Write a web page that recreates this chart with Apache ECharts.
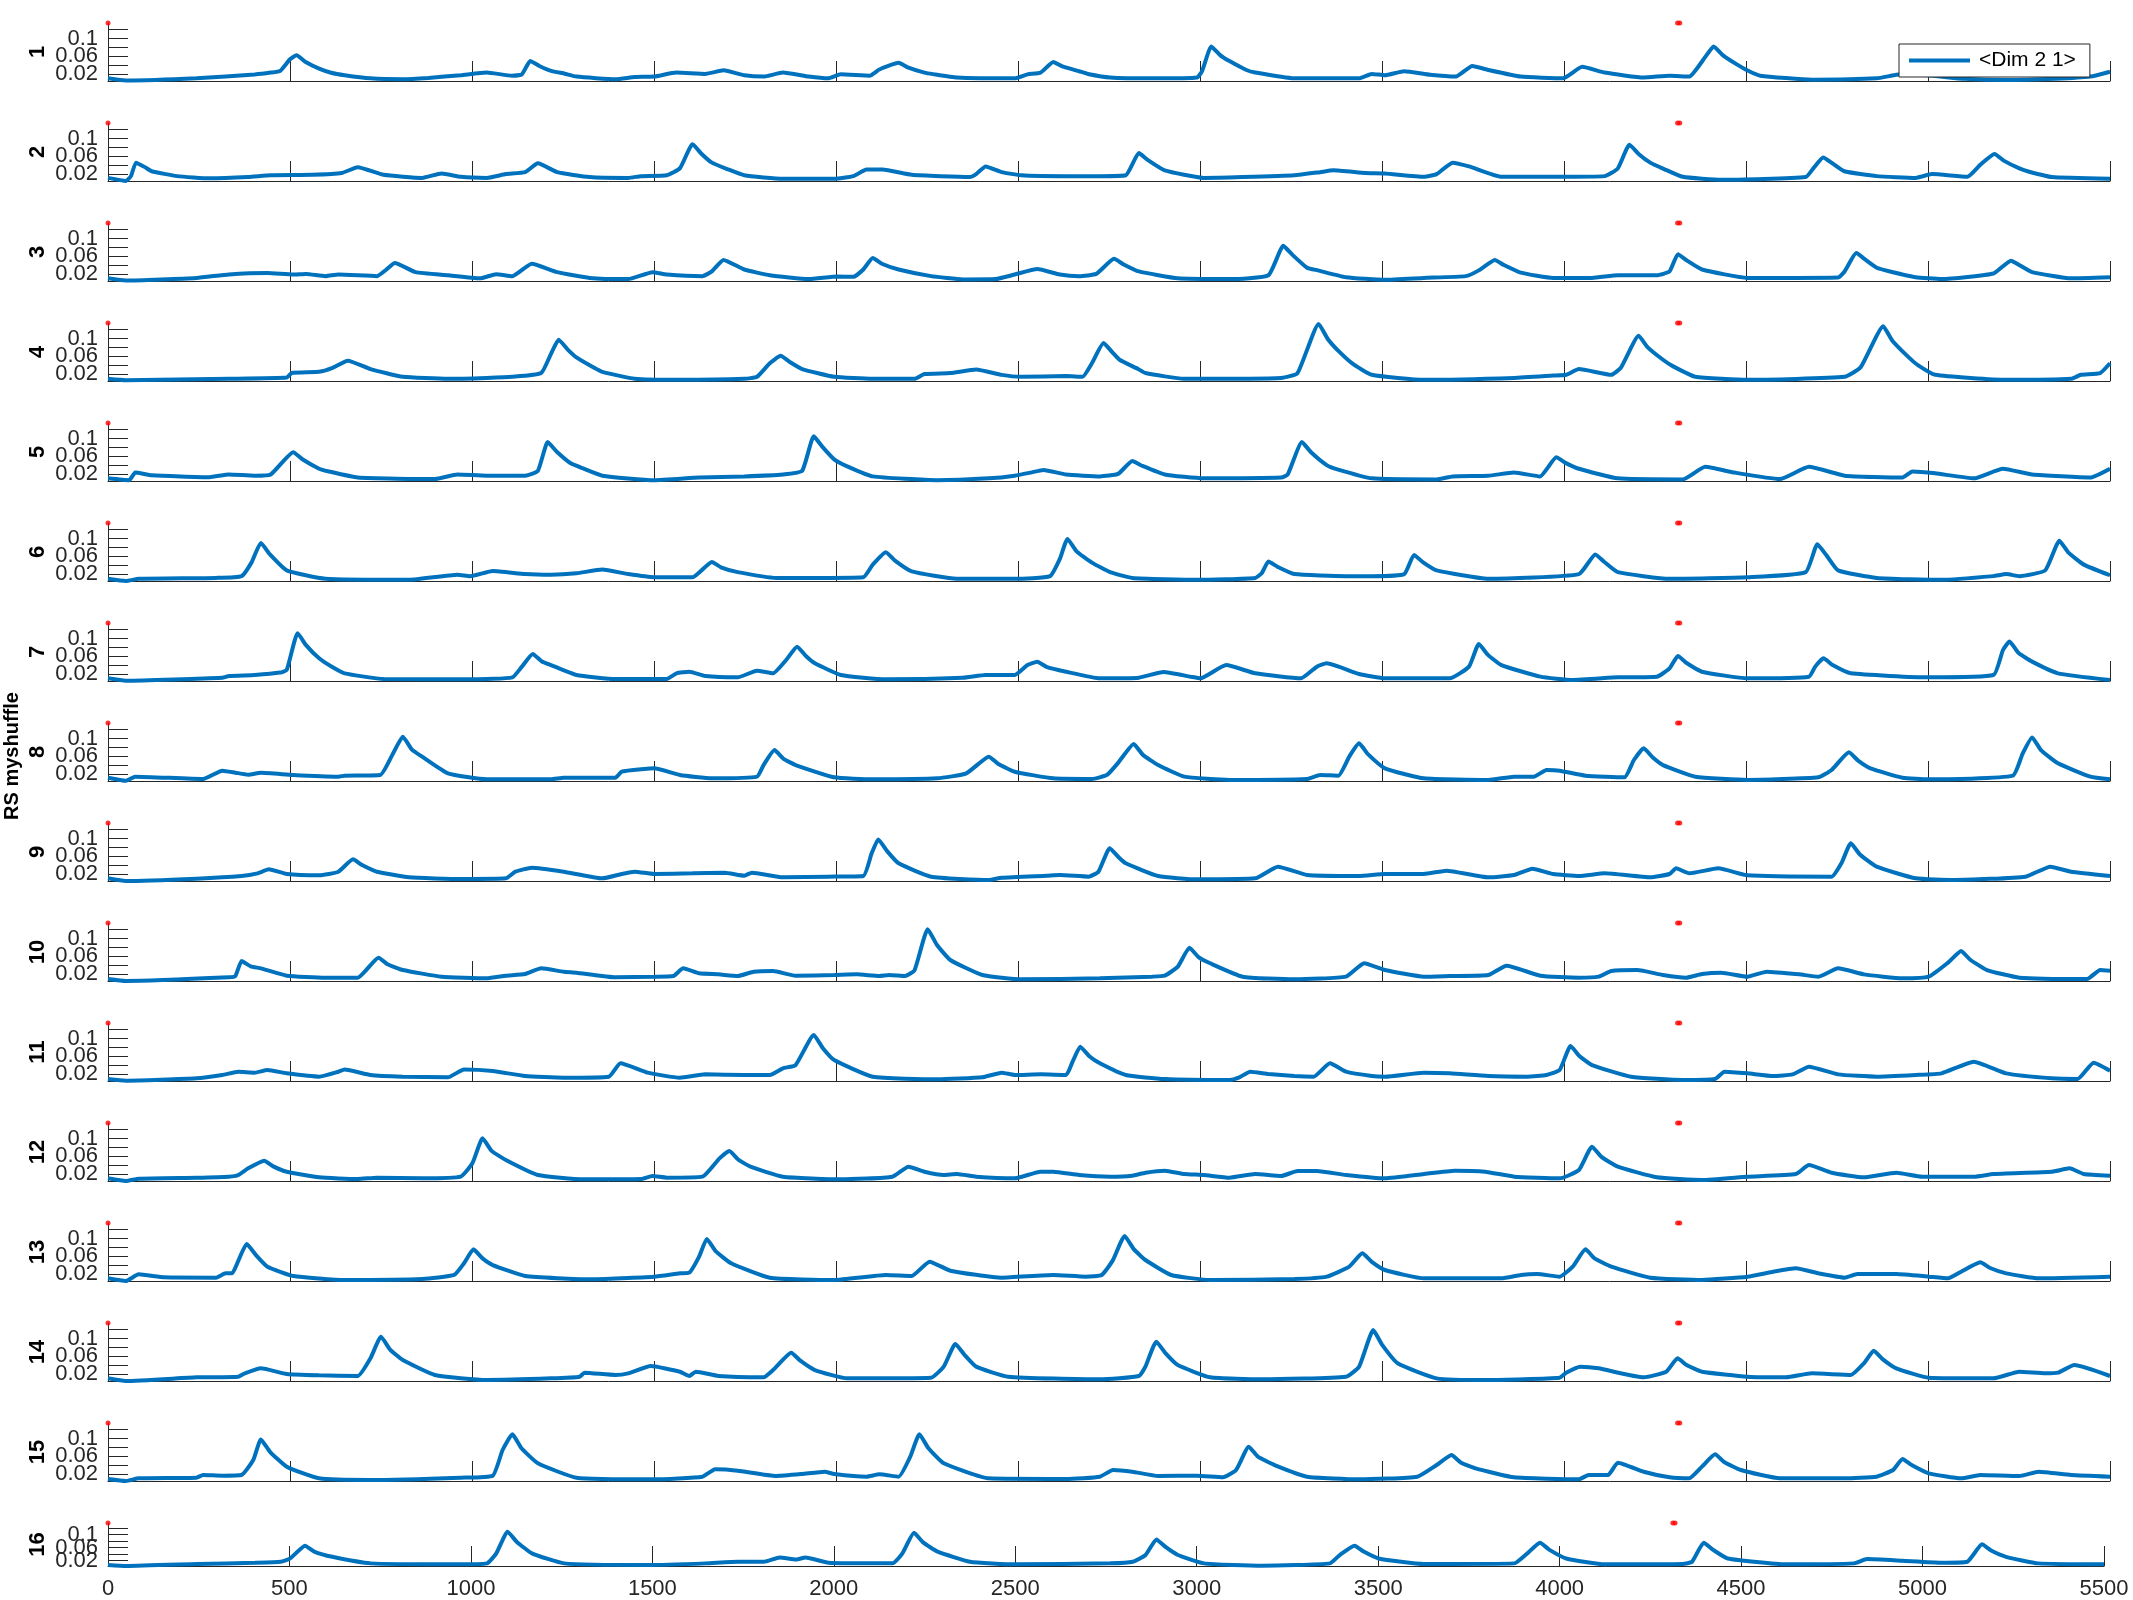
<!DOCTYPE html>
<html><head><meta charset="utf-8">
<script src="https://cdn.jsdelivr.net/npm/echarts@6/dist/echarts.min.js"></script>
<style>html,body{margin:0;padding:0;background:#fff}#c{width:2133px;height:1600px}</style>
</head><body><div id="c"></div><script>
const FONT = "'Liberation Sans', Arial, sans-serif";
const xTickStep = 500;
const yTickValues = [0.02, 0.04, 0.06, 0.08, 0.1, 0.12];
const yLabelValues = [0.02, 0.06, 0.1];
const rowLabels = ['1','2','3','4','5','6','7','8','9','10','11','12','13','14','15','16'];
const markerPts = [[0, 0.135], [4312, 0.135], [4318, 0.135]];
const legendName = '<Dim 2 1>';
const yTitle = 'RS myshuffle';

const s1 = [[0,0.010],[49,0.005],[243,0.010],[403,0.0187],[447,0.023],[473,0.027],[500,0.053],[518,0.062],[543,0.047],[580,0.032],[613,0.0226],[650,0.017],[721,0.010],[810,0.008],[880,0.011],[969,0.017],[1040,0.023],[1110,0.016],[1137,0.019],[1160,0.049],[1185,0.038],[1217,0.027],[1255,0.0205],[1287,0.014],[1394,0.008],[1447,0.013],[1500,0.014],[1562,0.023],[1641,0.020],[1691,0.028],[1748,0.017],[1801,0.014],[1854,0.023],[1925,0.014],[1978,0.010],[2013,0.019],[2093,0.016],[2119,0.030],[2172,0.045],[2197,0.035],[2243,0.023],[2267,0.0195],[2332,0.012],[2491,0.010],[2526,0.019],[2562,0.023],[2597,0.047],[2622,0.037],[2668,0.026],[2692,0.020],[2753,0.012],[2868,0.010],[2992,0.012],[3006,0.027],[3031,0.082],[3056,0.062],[3081,0.049],[3126,0.0295],[3152,0.023],[3259,0.010],[3437,0.010],[3472,0.020],[3508,0.017],[3561,0.026],[3632,0.018],[3703,0.014],[3748,0.038],[3792,0.029],[3881,0.014],[3997,0.010],[4050,0.036],[4112,0.023],[4219,0.012],[4290,0.016],[4344,0.014],[4388,0.058],[4411,0.082],[4436,0.0625],[4468,0.045],[4506,0.027],[4539,0.016],[4681,0.007],[4859,0.010],[4913,0.018],[4960,0.019],[5100,0.009],[5215,0.006],[5350,0.009],[5446,0.014],[5500,0.025]];
const s2 = [[0,0.011],[49,0.004],[63,0.015],[77,0.0455],[102,0.035],[120,0.026],[190,0.015],[279,0.010],[385,0.013],[447,0.017],[562,0.018],[642,0.022],[686,0.035],[757,0.018],[863,0.011],[916,0.021],[969,0.0135],[1040,0.011],[1093,0.0196],[1146,0.024],[1181,0.044],[1234,0.024],[1323,0.013],[1429,0.011],[1464,0.015],[1535,0.017],[1571,0.0325],[1606,0.087],[1631,0.065],[1659,0.0455],[1701,0.031],[1748,0.017],[1854,0.009],[1995,0.009],[2048,0.015],[2084,0.030],[2128,0.030],[2208,0.018],[2367,0.013],[2385,0.0196],[2411,0.037],[2455,0.024],[2509,0.017],[2632,0.015],[2725,0.015],[2796,0.017],[2832,0.067],[2857,0.051],[2903,0.028],[3010,0.011],[3117,0.013],[3259,0.017],[3330,0.024],[3366,0.028],[3454,0.022],[3508,0.021],[3615,0.0135],[3650,0.0196],[3694,0.0455],[3739,0.037],[3828,0.0135],[3970,0.0135],[4112,0.015],[4148,0.0325],[4180,0.086],[4205,0.065],[4237,0.0455],[4275,0.031],[4326,0.0135],[4433,0.0066],[4664,0.013],[4685,0.0325],[4712,0.057],[4737,0.044],[4770,0.026],[4859,0.015],[4966,0.011],[5011,0.0196],[5108,0.0135],[5144,0.041],[5183,0.065],[5208,0.050],[5251,0.0325],[5278,0.025],[5340,0.013],[5500,0.009]];
const s3 = [[0,0.010],[49,0.005],[243,0.011],[332,0.0187],[438,0.022],[509,0.0187],[544,0.020],[597,0.015],[633,0.0187],[739,0.015],[765,0.030],[788,0.0446],[845,0.024],[934,0.017],[1022,0.010],[1066,0.0195],[1111,0.015],[1164,0.043],[1234,0.024],[1323,0.011],[1429,0.0083],[1496,0.024],[1535,0.0187],[1633,0.015],[1659,0.0257],[1691,0.0515],[1748,0.030],[1818,0.017],[1925,0.0083],[2004,0.014],[2048,0.0135],[2075,0.030],[2101,0.056],[2126,0.043],[2172,0.030],[2261,0.015],[2349,0.0075],[2438,0.0083],[2491,0.0187],[2553,0.031],[2615,0.0187],[2668,0.015],[2715,0.020],[2764,0.054],[2789,0.042],[2832,0.0256],[2939,0.010],[3081,0.0083],[3188,0.017],[3229,0.0835],[3254,0.063],[3294,0.034],[3324,0.028],[3401,0.0126],[3508,0.0066],[3615,0.011],[3730,0.015],[3766,0.028],[3810,0.0516],[3835,0.040],[3881,0.023],[3970,0.011],[4077,0.011],[4148,0.017],[4255,0.017],[4290,0.0256],[4313,0.0645],[4338,0.050],[4379,0.030],[4504,0.011],[4753,0.012],[4771,0.0256],[4803,0.067],[4828,0.052],[4859,0.034],[4898,0.025],[4966,0.0126],[5037,0.0083],[5180,0.021],[5228,0.050],[5253,0.039],[5286,0.024],[5393,0.010],[5500,0.0126]];
const s4 = [[0,0.009],[49,0.0057],[332,0.009],[491,0.0118],[505,0.022],[580,0.0247],[615,0.033],[659,0.050],[721,0.031],[810,0.0135],[934,0.009],[1040,0.011],[1111,0.0135],[1190,0.022],[1217,0.0654],[1238,0.0973],[1263,0.075],[1288,0.0567],[1333,0.035],[1358,0.0247],[1447,0.009],[1571,0.0066],[1748,0.009],[1783,0.0135],[1818,0.044],[1848,0.061],[1873,0.047],[1907,0.031],[1995,0.0135],[2101,0.009],[2216,0.009],[2243,0.0196],[2314,0.022],[2385,0.030],[2455,0.0178],[2509,0.0135],[2632,0.0152],[2677,0.0135],[2703,0.044],[2735,0.0896],[2760,0.068],[2779,0.052],[2830,0.031],[2850,0.022],[2956,0.009],[3223,0.011],[3268,0.022],[3326,0.133],[3351,0.099],[3383,0.0697],[3421,0.042],[3472,0.018],[3615,0.0066],[3863,0.011],[3970,0.0162],[4006,0.018],[4041,0.031],[4130,0.018],[4157,0.035],[4205,0.106],[4230,0.080],[4272,0.052],[4300,0.037],[4361,0.0135],[4504,0.0066],[4771,0.0135],[4815,0.035],[4877,0.1276],[4902,0.095],[4948,0.0567],[4972,0.040],[5020,0.018],[5215,0.0066],[5393,0.009],[5420,0.018],[5473,0.022],[5500,0.044]];
const s5 = [[0,0.010],[58,0.0057],[75,0.023],[120,0.017],[279,0.0126],[332,0.0187],[403,0.016],[447,0.0187],[509,0.069],[534,0.053],[580,0.0317],[604,0.026],[686,0.0118],[898,0.0083],[960,0.0187],[1040,0.016],[1146,0.016],[1181,0.027],[1208,0.092],[1233,0.070],[1270,0.0446],[1303,0.033],[1358,0.016],[1500,0.0057],[1624,0.0118],[1748,0.0144],[1854,0.0187],[1907,0.027],[1939,0.105],[1964,0.080],[1995,0.053],[2034,0.036],[2101,0.0144],[2278,0.0057],[2420,0.010],[2491,0.016],[2535,0.023],[2570,0.029],[2632,0.0187],[2725,0.0144],[2775,0.020],[2814,0.049],[2839,0.039],[2903,0.0187],[3010,0.010],[3223,0.0118],[3241,0.0187],[3280,0.092],[3305,0.069],[3348,0.040],[3375,0.031],[3472,0.010],[3650,0.0075],[3694,0.0144],[3792,0.016],[3863,0.023],[3934,0.0144],[3979,0.0576],[4004,0.045],[4041,0.0317],[4148,0.010],[4326,0.0075],[4388,0.036],[4468,0.023],[4593,0.0083],[4673,0.036],[4771,0.016],[4930,0.0118],[4957,0.0256],[5020,0.0213],[5126,0.010],[5206,0.0317],[5286,0.0187],[5446,0.0118],[5500,0.0317]];
const s6 = [[0,0.009],[49,0.004],[84,0.009],[297,0.011],[367,0.015],[394,0.0455],[420,0.090],[445,0.064],[491,0.028],[597,0.009],[827,0.0066],[960,0.018],[995,0.015],[1057,0.0265],[1146,0.0196],[1217,0.018],[1287,0.0213],[1358,0.030],[1429,0.0196],[1500,0.0126],[1606,0.0126],[1659,0.047],[1684,0.035],[1730,0.024],[1836,0.011],[1925,0.011],[2075,0.0126],[2101,0.041],[2137,0.069],[2162,0.050],[2208,0.0256],[2332,0.009],[2491,0.009],[2588,0.015],[2615,0.054],[2636,0.099],[2661,0.071],[2703,0.0455],[2753,0.024],[2814,0.011],[2992,0.0066],[3152,0.011],[3170,0.022],[3188,0.048],[3213,0.036],[3259,0.0196],[3401,0.015],[3472,0.015],[3561,0.0196],[3588,0.063],[3613,0.046],[3650,0.028],[3792,0.009],[4041,0.0196],[4086,0.064],[4111,0.047],[4148,0.024],[4290,0.009],[4504,0.0126],[4664,0.024],[4696,0.087],[4721,0.062],[4753,0.028],[4859,0.011],[5037,0.0066],[5180,0.015],[5215,0.0196],[5251,0.015],[5322,0.028],[5361,0.095],[5386,0.068],[5428,0.041],[5500,0.017]];
const s7 = [[0,0.010],[49,0.0048],[314,0.0115],[332,0.0153],[403,0.0176],[473,0.023],[491,0.029],[521,0.112],[544,0.085],[580,0.0552],[615,0.036],[650,0.0213],[757,0.0085],[1004,0.0078],[1111,0.0123],[1137,0.0364],[1167,0.065],[1192,0.048],[1217,0.040],[1287,0.0176],[1394,0.0085],[1535,0.0085],[1562,0.0213],[1597,0.025],[1641,0.0153],[1730,0.0123],[1783,0.0273],[1827,0.0213],[1863,0.0514],[1893,0.0816],[1918,0.060],[1942,0.044],[2013,0.0176],[2137,0.0078],[2349,0.0115],[2411,0.0176],[2491,0.0176],[2526,0.040],[2553,0.0477],[2578,0.036],[2632,0.025],[2725,0.010],[2832,0.0115],[2900,0.0243],[2974,0.0138],[3001,0.010],[3072,0.040],[3152,0.0213],[3277,0.010],[3321,0.0364],[3348,0.044],[3437,0.0198],[3508,0.010],[3686,0.010],[3739,0.0364],[3766,0.0876],[3791,0.063],[3828,0.040],[3935,0.0138],[4024,0.0063],[4148,0.0123],[4255,0.0138],[4290,0.0326],[4313,0.0605],[4338,0.044],[4379,0.025],[4504,0.010],[4673,0.0138],[4690,0.0364],[4713,0.0552],[4738,0.040],[4788,0.0213],[5002,0.0123],[5180,0.0176],[5206,0.074],[5224,0.093],[5249,0.067],[5286,0.0477],[5357,0.0213],[5500,0.0063]];
const s8 = [[0,0.0115],[49,0.0045],[75,0.0138],[261,0.0085],[314,0.0273],[350,0.0228],[385,0.0183],[420,0.0228],[509,0.0176],[633,0.0138],[650,0.016],[748,0.0176],[783,0.066],[810,0.104],[835,0.075],[863,0.059],[934,0.0213],[1040,0.0078],[1217,0.0078],[1252,0.0115],[1394,0.0115],[1411,0.025],[1473,0.031],[1500,0.0326],[1571,0.0176],[1659,0.010],[1783,0.0138],[1801,0.040],[1831,0.074],[1856,0.054],[1889,0.040],[1995,0.0123],[2101,0.0078],[2278,0.010],[2358,0.0213],[2420,0.059],[2445,0.043],[2491,0.025],[2597,0.010],[2703,0.0085],[2745,0.018],[2775,0.045],[2818,0.0876],[2843,0.063],[2885,0.040],[2957,0.0138],[3081,0.0063],[3294,0.0085],[3330,0.0176],[3380,0.016],[3410,0.059],[3437,0.089],[3462,0.064],[3508,0.0326],[3615,0.010],[3792,0.0063],[3863,0.0138],[3917,0.0138],[3952,0.0288],[3988,0.0273],[4059,0.016],[4166,0.0123],[4192,0.0514],[4219,0.0778],[4244,0.057],[4272,0.040],[4361,0.0138],[4504,0.0063],[4699,0.0123],[4735,0.0288],[4783,0.0688],[4808,0.050],[4842,0.0326],[4930,0.0115],[5002,0.0078],[5233,0.016],[5260,0.066],[5286,0.1025],[5311,0.073],[5357,0.044],[5446,0.0138],[5500,0.0078]];
const s9 = [[0,0.010],[49,0.004],[243,0.0093],[367,0.0153],[411,0.0213],[442,0.0304],[491,0.0198],[580,0.0168],[633,0.025],[673,0.053],[698,0.040],[739,0.025],[827,0.0123],[969,0.0085],[1093,0.010],[1119,0.025],[1164,0.034],[1252,0.025],[1358,0.010],[1411,0.0198],[1447,0.025],[1500,0.0198],[1606,0.0213],[1694,0.0228],[1748,0.016],[1769,0.0228],[1854,0.0123],[1978,0.0138],[2075,0.0153],[2098,0.0665],[2116,0.098],[2141,0.071],[2172,0.044],[2261,0.0138],[2420,0.0063],[2455,0.0115],[2579,0.016],[2615,0.0176],[2694,0.0138],[2721,0.025],[2752,0.078],[2777,0.057],[2796,0.044],[2885,0.0153],[2992,0.0078],[3152,0.010],[3214,0.0364],[3294,0.0176],[3437,0.0153],[3508,0.0198],[3615,0.0198],[3677,0.0273],[3792,0.0123],[3863,0.0176],[3913,0.0318],[3970,0.0198],[4041,0.0153],[4112,0.0213],[4237,0.0123],[4290,0.0198],[4308,0.0326],[4344,0.0213],[4424,0.0326],[4504,0.0168],[4735,0.0138],[4762,0.044],[4788,0.0893],[4813,0.064],[4859,0.0364],[4966,0.010],[5073,0.0063],[5268,0.0138],[5336,0.0364],[5393,0.025],[5500,0.0153]];
const s10 = [[0,0.0085],[49,0.004],[332,0.0123],[350,0.0153],[367,0.049],[392,0.037],[420,0.0326],[491,0.016],[597,0.0115],[686,0.0115],[743,0.0567],[768,0.042],[810,0.0288],[916,0.0138],[1040,0.010],[1093,0.016],[1146,0.0198],[1190,0.0326],[1252,0.025],[1287,0.0228],[1394,0.0123],[1500,0.0138],[1553,0.0153],[1580,0.0326],[1624,0.0213],[1677,0.019],[1730,0.0153],[1774,0.025],[1827,0.0266],[1889,0.016],[1995,0.0176],[2057,0.019],[2119,0.0153],[2146,0.0176],[2190,0.0153],[2216,0.0288],[2252,0.121],[2277,0.086],[2314,0.0514],[2402,0.0176],[2509,0.0078],[2725,0.010],[2868,0.0138],[2903,0.016],[2939,0.0364],[2971,0.0793],[2996,0.058],[3028,0.044],[3117,0.0138],[3259,0.0078],[3401,0.0138],[3451,0.044],[3508,0.0288],[3615,0.0138],[3686,0.0153],[3792,0.0176],[3842,0.0386],[3935,0.016],[4041,0.0115],[4095,0.0138],[4130,0.0266],[4201,0.0288],[4272,0.0176],[4335,0.0115],[4379,0.0198],[4432,0.0228],[4504,0.0138],[4557,0.025],[4646,0.019],[4699,0.0138],[4753,0.0326],[4824,0.019],[4930,0.010],[5002,0.0138],[5055,0.0454],[5091,0.0718],[5116,0.052],[5162,0.0288],[5251,0.0115],[5437,0.0085],[5473,0.0288],[5500,0.0273]];
const s11 = [[0,0.0085],[49,0.0048],[243,0.010],[314,0.0176],[358,0.025],[403,0.0228],[438,0.0288],[491,0.0213],[580,0.0138],[633,0.025],[650,0.030],[721,0.0176],[810,0.0138],[934,0.0123],[978,0.030],[1057,0.0266],[1146,0.0153],[1252,0.0115],[1376,0.0138],[1408,0.044],[1482,0.0228],[1571,0.0115],[1641,0.019],[1748,0.0176],[1818,0.0176],[1854,0.0326],[1889,0.040],[1939,0.108],[1964,0.078],[1995,0.0514],[2101,0.0138],[2278,0.0078],[2402,0.0123],[2455,0.0228],[2491,0.0176],[2562,0.019],[2632,0.0176],[2650,0.0477],[2671,0.0816],[2696,0.060],[2725,0.044],[2796,0.0176],[2903,0.0085],[3081,0.0063],[3108,0.0123],[3138,0.025],[3188,0.0198],[3259,0.0153],[3312,0.0138],[3357,0.044],[3401,0.025],[3472,0.0153],[3508,0.0138],[3615,0.0228],[3686,0.0213],[3792,0.0153],[3899,0.0138],[3952,0.0176],[3988,0.0288],[4018,0.083],[4043,0.060],[4077,0.040],[4184,0.0138],[4326,0.0063],[4415,0.0085],[4441,0.025],[4504,0.0213],[4575,0.0153],[4628,0.019],[4673,0.0364],[4753,0.019],[4859,0.0138],[4966,0.0176],[5037,0.0213],[5126,0.0477],[5215,0.0213],[5340,0.010],[5411,0.0085],[5455,0.0454],[5500,0.0273]];
const s12 = [[0,0.010],[49,0.004],[84,0.0093],[243,0.0115],[332,0.0138],[358,0.0176],[385,0.0326],[429,0.050],[454,0.037],[491,0.025],[580,0.0123],[686,0.0085],[739,0.0115],[863,0.010],[969,0.0138],[1001,0.044],[1029,0.1004],[1054,0.072],[1093,0.0514],[1181,0.0176],[1305,0.0078],[1464,0.0085],[1496,0.0153],[1535,0.0115],[1633,0.0138],[1680,0.0552],[1707,0.0718],[1732,0.052],[1765,0.0364],[1854,0.0138],[2013,0.0078],[2155,0.0138],[2199,0.0364],[2243,0.025],[2296,0.0176],[2332,0.0198],[2385,0.0138],[2491,0.010],[2562,0.025],[2597,0.025],[2668,0.0176],[2753,0.0138],[2814,0.016],[2850,0.0228],[2903,0.0273],[2957,0.0198],[3010,0.0176],[3081,0.0115],[3152,0.0198],[3223,0.0153],[3268,0.0266],[3321,0.0266],[3401,0.0176],[3508,0.010],[3615,0.0198],[3700,0.0273],[3783,0.025],[3863,0.0138],[3988,0.010],[4041,0.0288],[4077,0.0816],[4102,0.059],[4148,0.0364],[4255,0.0123],[4379,0.0063],[4504,0.0138],[4637,0.0198],[4673,0.040],[4735,0.0228],[4824,0.0123],[4913,0.0228],[4984,0.0138],[5126,0.0138],[5180,0.0198],[5340,0.025],[5389,0.0326],[5428,0.0198],[5500,0.016]];
const s13 = [[0,0.010],[49,0.004],[84,0.019],[155,0.0123],[297,0.0115],[323,0.0213],[341,0.0213],[355,0.044],[381,0.0876],[406,0.063],[438,0.0364],[509,0.0153],[650,0.0063],[863,0.0085],[951,0.0176],[978,0.044],[1004,0.0756],[1029,0.055],[1057,0.040],[1146,0.0153],[1323,0.0078],[1500,0.0138],[1571,0.0213],[1597,0.0228],[1624,0.059],[1645,0.0989],[1670,0.071],[1712,0.044],[1818,0.0115],[1995,0.0063],[2137,0.0176],[2208,0.0153],[2257,0.0477],[2314,0.0273],[2455,0.0115],[2597,0.0176],[2686,0.0138],[2730,0.0176],[2760,0.050],[2793,0.1057],[2818,0.076],[2850,0.0514],[2921,0.0176],[3028,0.0063],[3259,0.0085],[3348,0.0138],[3410,0.0364],[3446,0.0665],[3471,0.048],[3508,0.0288],[3615,0.010],[3828,0.010],[3881,0.0176],[3926,0.0198],[3988,0.0138],[4024,0.0364],[4059,0.0756],[4084,0.055],[4130,0.0364],[4237,0.0115],[4379,0.0063],[4504,0.0138],[4575,0.025],[4637,0.0326],[4699,0.0213],[4771,0.0115],[4806,0.0198],[4913,0.0198],[5002,0.0138],[5055,0.010],[5091,0.025],[5144,0.0462],[5169,0.034],[5215,0.0213],[5304,0.010],[5500,0.0138]];
const s14 = [[0,0.010],[49,0.004],[243,0.0123],[358,0.0138],[376,0.0213],[420,0.0326],[491,0.0198],[580,0.0168],[686,0.0153],[721,0.0552],[750,0.104],[775,0.075],[810,0.0514],[898,0.0176],[1040,0.0063],[1217,0.010],[1296,0.0138],[1309,0.0228],[1394,0.0176],[1429,0.0213],[1491,0.0379],[1571,0.025],[1597,0.0153],[1615,0.025],[1677,0.0153],[1801,0.0123],[1827,0.0288],[1877,0.068],[1902,0.050],[1942,0.0288],[2031,0.010],[2261,0.0115],[2296,0.0364],[2328,0.0876],[2353,0.063],[2385,0.0364],[2473,0.0138],[2725,0.0078],[2832,0.0153],[2850,0.0364],[2880,0.0929],[2905,0.067],[2939,0.040],[3028,0.0123],[3170,0.0078],[3401,0.0138],[3437,0.0364],[3476,0.119],[3501,0.085],[3543,0.044],[3650,0.010],[3792,0.0063],[3988,0.0115],[4006,0.0228],[4045,0.0364],[4095,0.0326],[4219,0.0123],[4281,0.025],[4312,0.0552],[4337,0.040],[4379,0.025],[4504,0.0138],[4610,0.0123],[4681,0.0213],[4788,0.0176],[4824,0.044],[4851,0.0725],[4876,0.053],[4913,0.0326],[5002,0.0115],[5180,0.010],[5251,0.025],[5322,0.0213],[5357,0.0228],[5402,0.040],[5500,0.0153]];
const s15 = [[0,0.0085],[49,0.004],[84,0.010],[243,0.0115],[261,0.0176],[314,0.016],[367,0.0176],[399,0.0514],[420,0.098],[445,0.070],[491,0.0364],[580,0.010],[721,0.0063],[969,0.0115],[1057,0.016],[1084,0.074],[1111,0.1094],[1136,0.078],[1181,0.044],[1287,0.0115],[1500,0.0078],[1633,0.0138],[1668,0.0304],[1730,0.0273],[1836,0.0153],[1907,0.0198],[1969,0.025],[1995,0.0198],[2084,0.0138],[2119,0.019],[2172,0.0138],[2204,0.059],[2229,0.1094],[2254,0.078],[2296,0.044],[2420,0.010],[2632,0.0085],[2725,0.0138],[2761,0.0288],[2814,0.025],[2885,0.0153],[2992,0.016],[3063,0.0123],[3099,0.0288],[3134,0.0816],[3159,0.059],[3205,0.040],[3294,0.0138],[3437,0.0078],[3597,0.0138],[3650,0.040],[3691,0.0627],[3716,0.046],[3757,0.0326],[3863,0.0123],[4041,0.0078],[4068,0.0176],[4121,0.0176],[4148,0.0454],[4219,0.025],[4290,0.0123],[4344,0.010],[4379,0.0364],[4415,0.0642],[4440,0.047],[4486,0.0288],[4593,0.010],[4771,0.010],[4859,0.0138],[4904,0.0288],[4930,0.0537],[4955,0.040],[5002,0.0213],[5091,0.010],[5144,0.0176],[5251,0.0153],[5304,0.025],[5393,0.0176],[5500,0.0138]];
const s16 = [[0,0.007],[50,0.004],[245,0.010],[405,0.014],[476,0.017],[502,0.027],[543,0.066],[568,0.048],[618,0.032],[724,0.012],[955,0.009],[1044,0.012],[1070,0.0426],[1101,0.1086],[1126,0.078],[1168,0.0426],[1257,0.012],[1488,0.007],[1647,0.012],[1736,0.017],[1807,0.017],[1851,0.030],[1896,0.024],[1922,0.030],[1985,0.014],[2162,0.012],[2189,0.0426],[2221,0.1055],[2246,0.076],[2286,0.0477],[2375,0.017],[2499,0.009],[2762,0.012],[2824,0.017],[2859,0.0375],[2889,0.085],[2914,0.062],[2948,0.0375],[3020,0.012],[3180,0.005],[3367,0.012],[3394,0.0375],[3435,0.066],[3460,0.048],[3501,0.027],[3626,0.010],[3875,0.012],[3911,0.0426],[3946,0.075],[3971,0.054],[4018,0.027],[4125,0.009],[4339,0.010],[4365,0.017],[4397,0.075],[4422,0.054],[4463,0.027],[4624,0.009],[4811,0.012],[4847,0.025],[4945,0.020],[5052,0.014],[5123,0.017],[5164,0.070],[5189,0.051],[5230,0.032],[5319,0.012],[5500,0.009]];

const rows = [s1,s2,s3,s4,s5,s6,s7,s8,s9,s10,s11,s12,s13,s14,s15,s16];
const INK = '#262626';
const grid = [], xAxis = [], yAxis = [], series = [], graphic = [];
rows.forEach((d, i) => {
  const last = i === rows.length - 1;
  const top = last ? 1523 : 23 + 100 * i, height = last ? 43 : 58;
  grid.push({ left: 108, top, width: last ? 1996 : 2002, height });
  xAxis.push({
    type: 'value', gridIndex: i, min: 0, max: 5500, interval: xTickStep,
    axisLine: { show: true, onZero: false, lineStyle: { color: INK, width: 1 } },
    axisTick: { show: true, inside: true, length: 20, lineStyle: { color: INK, width: 1 } },
    axisLabel: { show: last, margin: 12, fontSize: 22, color: INK, fontFamily: FONT, formatter: v => String(v), hideOverlap: false },
    splitLine: { show: false }
  });
  yAxis.push({
    type: 'value', gridIndex: i, min: 0.004, max: 0.135,
    axisLine: { show: true, lineStyle: { color: INK, width: 1 } },
    axisTick: { show: true, inside: true, length: 20, customValues: yTickValues, lineStyle: { color: INK, width: 1 } },
    axisLabel: { show: false },
    splitLine: { show: false }
  });
  series.push({
    type: 'line', name: i === 0 ? legendName : 'row ' + (i + 1), xAxisIndex: i, yAxisIndex: i,
    data: d, symbol: 'none', showSymbol: false, smooth: 0.15,
    lineStyle: { color: '#0072BD', width: 4 }, itemStyle: { color: '#0072BD' }, z: 2
  });
  series.push({
    type: 'scatter', name: 'mark ' + (i + 1), xAxisIndex: i, yAxisIndex: i,
    data: markerPts, symbol: 'circle', symbolSize: 5, clip: false, silent: true,
    itemStyle: { color: '#FF0000' }, z: 3
  });
  graphic.push({
    type: 'text', x: 38, y: top + height / 2, rotation: Math.PI / 2,
    style: { text: rowLabels[i], font: "bold 22px 'Liberation Sans', Arial, sans-serif", fill: '#000', textAlign: 'center', textVerticalAlign: 'middle' }
  });
});
graphic.push({
  type: 'text', x: 12, y: 756, rotation: Math.PI / 2,
  style: { text: yTitle, font: "bold 20px 'Liberation Sans', Arial, sans-serif", fill: '#000', textAlign: 'center', textVerticalAlign: 'middle' }
});

const chart = echarts.init(document.getElementById('c'), null, { renderer: 'canvas' });
chart.setOption({
  animation: false,
  backgroundColor: '#fff',
  grid, xAxis, yAxis, series,
  legend: {
    data: [legendName], left: 1899, top: 44, orient: 'horizontal', icon: 'rect',
    backgroundColor: '#fff', borderColor: INK, borderWidth: 1, borderRadius: 0,
    padding: [6, 14, 6, 10], itemWidth: 61, itemHeight: 4, itemGap: 0,
    textStyle: { fontSize: 21, color: '#000', fontFamily: FONT, padding: [0, 0, 0, 4] }, z: 10
  }
});
// y tick labels placed through the axis scale of each panel
rows.forEach((d, i) => {
  yLabelValues.forEach(v => {
    const py = chart.convertToPixel({ yAxisIndex: i }, v);
    const px = chart.convertToPixel({ xAxisIndex: i }, 0);
    graphic.push({
      type: 'text', x: px - 10, y: py, silent: true,
      style: { text: String(v), font: "22px 'Liberation Sans', Arial, sans-serif", fill: INK, textAlign: 'right', textVerticalAlign: 'middle' }
    });
  });
});
chart.setOption({ graphic });
</script></body></html>
